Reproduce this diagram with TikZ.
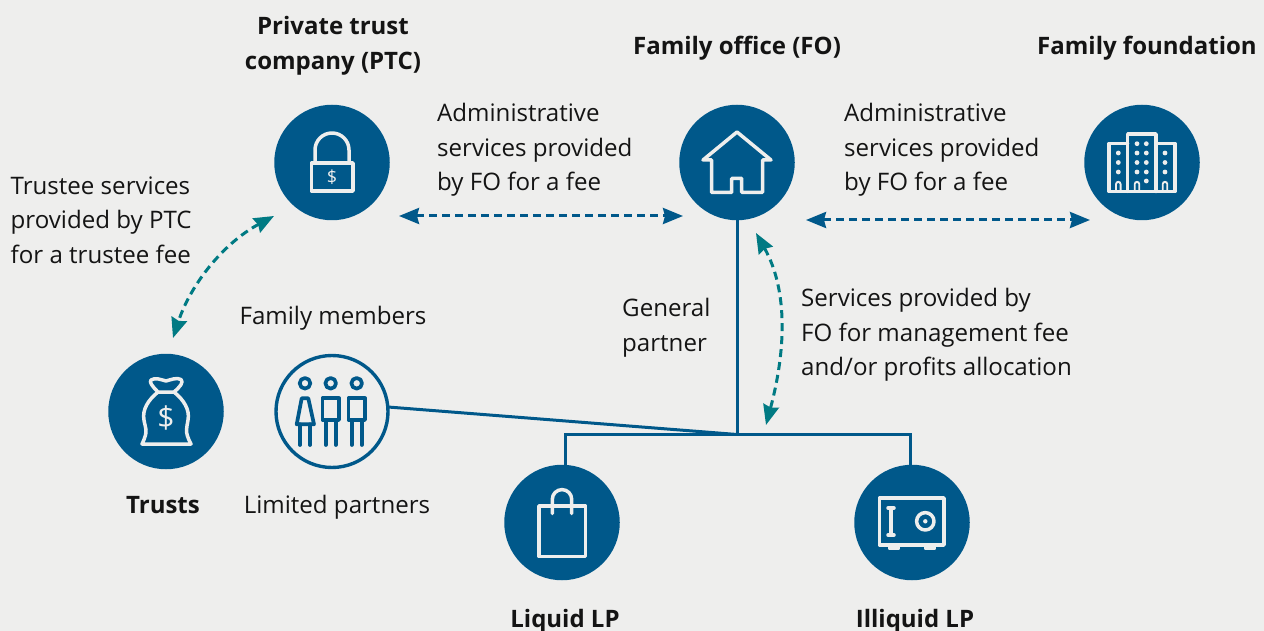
\documentclass[tikz,border=0pt]{standalone}
\usepackage{fontspec}
\setmainfont{Open Sans}
\usetikzlibrary{arrows.meta}
\definecolor{bgc}{HTML}{EEEEED}
\definecolor{navy}{HTML}{00588A}
\definecolor{teal2}{HTML}{007A83}
\definecolor{ink}{HTML}{141414}
\tikzset{
  x=1pt,y=-1pt,
  disc/.style={circle,fill=navy,minimum size=115.5pt,inner sep=0pt,outer sep=0pt},
  ring/.style={circle,draw=navy,fill=bgc,line width=3.4pt,minimum size=112pt,inner sep=0pt,outer sep=0pt},
  icon/.style={draw=bgc,line width=3.5pt,line join=round,line cap=round},
  iconb/.style={draw=navy,line width=3.7pt,line join=round,line cap=round},
  lab/.style={font=\fontsize{24.1}{34.5}\selectfont,text=ink,align=left,inner sep=0pt},
  head/.style={font=\fontsize{24}{34.5}\selectfont\bfseries,text=ink,align=center,inner sep=0pt},
  link/.style={draw=navy,line width=3pt},
  blueflow/.style={draw=navy,line width=3pt,dash pattern=on 8pt off 5pt,{Stealth[length=20pt,width=16pt,inset=2pt]}-{Stealth[length=20pt,width=16pt,inset=2pt]}},
  tealflow/.style={draw=teal2,line width=3pt,dash pattern=on 8pt off 5pt,{Stealth[length=20pt,width=16pt,inset=2pt]}-{Stealth[length=20pt,width=16pt,inset=2pt]}},
}
\begin{document}
\begin{tikzpicture}
\useasboundingbox[fill=bgc] (0,0) rectangle (1264,631);
% discs
\node[disc] (ptc) at (332,162.5) {};
\node[disc] (fo) at (737,162.5) {};
\node[disc] (fdn) at (1142,162.5) {};
\node[disc] (tr) at (166,411.5) {};
\node[ring] (lp) at (332,411.5) {};
\node[disc] (liq) at (562,522.5) {};
\node[disc] (ill) at (912,522.5) {};
% free ends
\coordinate (j) at (737,434.5);
\coordinate (jl) at (565,434.5);
\coordinate (jr) at (910,434.5);
\coordinate (liqt) at (565,466);
\coordinate (illt) at (910,466);
\coordinate (lpe) at (388,407);
\coordinate (a1) at (399,216);
\coordinate (a2) at (683,216);
\coordinate (b1) at (806,220);
\coordinate (b2) at (1090,220);
\coordinate (c1) at (274,216);
\coordinate (c2) at (173,338);
\coordinate (d1) at (756,233);
\coordinate (d2) at (766,425);
% connectors
\draw[link] (fo.south) -- (j);
\draw[link] (lpe) -- (j);
\draw[link] (liqt) -- (jl) -- (jr) -- (illt);
\draw[blueflow] (a1) -- (a2);
\draw[blueflow] (b1) -- (b2);
\draw[tealflow] (c1) .. controls (222,244) and (190,286) .. (c2);
\draw[tealflow] (d1) .. controls (788,290) and (786,350) .. (d2);
% lock
\draw[icon] (311.5,163) rectangle (353,191);
\draw[icon] (315,163) -- (315,150) arc[start angle=180,end angle=360,radius=17] -- (349,163);
\node[font=\fontsize{18}{18}\selectfont,text=bgc,inner sep=0pt] (d1t) at (332,177) {\$};
% house
\draw[icon] (703,160) -- (737,132) -- (771,160) -- (762.5,160) -- (762.5,192.3) -- (741.7,192.3) -- (741.7,178.3) -- (731.7,178.3) -- (731.7,192.3) -- (711.5,192.3) -- (711.5,160) -- cycle;
% buildings
\draw[icon] (1127.7,143.5) -- (1109,143.5) -- (1109,191.5) -- (1175,191.5) -- (1175,143.5) -- (1156,143.5);
\draw[icon] (1127.7,191.5) -- (1127.7,134) -- (1156,134) -- (1156,191.5);
\foreach \x/\y in {1118.3/153,1118.3/162.5,1118.3/172,1137/143.7,1137/153,1137/162.5,1137/172,1146.3/143.7,1146.3/153,1146.3/162.5,1146.3/172,1146.3/181,1165/153,1165/162.5,1165/172}
  \fill[bgc] (\x,\y) circle[radius=2.4];
\foreach \x in {1118.3,1137,1165}
  \fill[bgc] (\x-3.2,191) -- (\x-3.2,184) arc[start angle=180,end angle=360,radius=3.2] -- (\x+3.2,191) -- (\x+1.4,191) -- (\x+1.4,184) arc[start angle=360,end angle=180,radius=1.4] -- (\x-1.4,191) -- cycle;
% money bag
\draw[icon] (158,392) .. controls (152,386) and (149,382) .. (151,380) .. controls (155,377) and (162,380) .. (166,381) .. controls (170,380) and (177,377) .. (181,379.5) .. controls (184,382) and (180,387) .. (174,392) -- cycle;
\draw[icon] (158,392) .. controls (148,400) and (142,410) .. (144,420) .. controls (145,428) and (149,430) .. (142,444) -- (191,444) .. controls (184,431) and (187,428) .. (188,420) .. controls (190,410) and (184,400) .. (174,392);
\node[font=\fontsize{30}{30}\selectfont,text=bgc,inner sep=0pt] (d2t) at (166,418) {\$};
% people
\foreach \x in {305,330.7,356.7}
  \draw[iconb] (\x,383.3) circle[radius=5.3];
\draw[iconb] (301.7,398.3) -- (308.3,398.3) -- (314,424.3) -- (296.7,424.3) -- cycle;
\draw[iconb] (300,424.3) -- (300,445) (310,424.3) -- (310,445);
\draw[iconb] (322.5,398.3) rectangle (339,420);
\draw[iconb] (325.7,420) -- (325.7,445) (335.7,420) -- (335.7,445);
\draw[iconb] (348.5,398.3) rectangle (365,420);
\draw[iconb] (351.7,420) -- (351.7,445) (361.7,420) -- (361.7,445);
% shopping bag
\draw[icon] (539,506) rectangle (585.5,556.5);
\draw[icon] (552.3,513.5) -- (552.3,499.3) arc[start angle=180,end angle=360,radius=9.7] -- (571.7,513.5);
% safe
\draw[icon] (879.5,498) rectangle (944,545);
\draw[icon] (891,508) -- (891,535);
\draw[icon] (888,508) -- (894,508) (888,535) -- (894,535);
\draw[icon,fill=bgc,line width=2pt] (889,545) -- (889,548.5) -- (898.5,548.5) -- (898.5,545) -- cycle;
\draw[icon,fill=bgc,line width=2pt] (925,545) -- (925,548.5) -- (935,548.5) -- (935,545) -- cycle;
\draw[icon] (925.3,521.3) circle[radius=8.7];
\fill[bgc] (925.3,521.3) circle[radius=2.2];
% labels
\node[head] (tptc) at (333,46) {Private trust\\company (PTC)};
\node[head] (tfo) at (737,48.5) {Family office (FO)};
\node[head] (tfdn) at (1147,48.5) {Family foundation};
\node[head] (ttr) at (163,505) {Trusts};
\node[head] (tliq) at (565,621) {Liquid LP};
\node[head] (till) at (915,621) {Illiquid LP};
\node[lab,anchor=west] (l1) at (437,150) {Administrative\\services provided\\by FO for a fee};
\node[lab,anchor=west] (l2) at (844,150) {Administrative\\services provided\\by FO for a fee};
\node[lab,anchor=west] (l3) at (10.5,220) {Trustee services\\provided by PTC\\for a trustee fee};
\node[lab,anchor=west] (l4) at (801,335) {Services provided by\\FO for management fee\\and/or profits allocation};
\node[lab,anchor=west] (l5) at (622,327.5) {General\\partner};
\node[lab] (l6) at (333,318) {Family members};
\node[lab] (l7) at (337,507) {Limited partners};
\end{tikzpicture}
\end{document}
